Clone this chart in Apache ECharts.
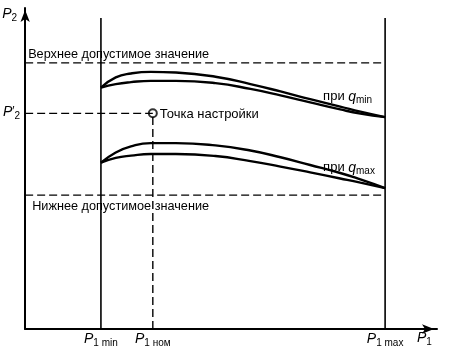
<!DOCTYPE html>
<html><head><meta charset="utf-8">
<script src="https://cdn.jsdelivr.net/npm/echarts@6/dist/echarts.min.js"></script>
<style>html,body{margin:0;padding:0;background:#fff}#c{width:449px;height:361px}</style>
</head><body><div id="c"></div>
<script>
const FONT = '"Liberation Sans", Arial, sans-serif';
const INK = '#000';
// key abscissas: P1 min, P1 nom, P1 max
const xTicks = [18.4, 31.0, 87.4];
const xTickSubs = ['1 min', '1 ном', '1 max'];
// key ordinate: P2'
const yTicks = [67.2];
const upperLimit = 82.9;
const lowerLimit = 41.7;
const boundTop = 96.9;
const setPoint = [31.0, 67.2];
// curves
const xCurve    = [18.4, 22.0, 25.7, 30.5, 36.6, 46.2, 54.7, 62.0, 69.2, 76.5, 81.4, 87.4];
const qMinOuter = [75.2, 78.4, 79.6, 80.1, 79.9, 78.6, 76.3, 74.0, 71.6, 69.3, 67.7, 66.0];
const qMinInner = [75.2, 76.3, 76.9, 77.3, 77.3, 76.6, 74.8, 72.8, 70.6, 68.4, 67.1, 66.0];
const qMaxOuter = [51.8, 55.0, 56.9, 57.9, 57.9, 57.2, 55.6, 53.5, 51.1, 48.6, 46.6, 43.9];
const qMaxInner = [51.8, 53.3, 54.0, 54.5, 54.5, 53.9, 52.3, 50.6, 48.8, 46.9, 45.6, 43.9];

const zip = (xs, ys) => xs.map((x, i) => [x, ys[i]]);
const chart = echarts.init(document.getElementById('c'), null, {renderer: 'canvas'});

const rich = {
  p: {fontFamily: FONT, fontStyle: 'italic', fontSize: 14, lineHeight: 16, verticalAlign: 'top', color: INK},
  pr: {fontFamily: FONT, fontSize: 12, lineHeight: 12, verticalAlign: 'top', color: INK},
  s: {fontFamily: FONT, fontSize: 10, lineHeight: 10, verticalAlign: 'top', color: INK, padding: [6, 0, 0, 0]},
  n: {fontFamily: FONT, fontSize: 13, lineHeight: 16, verticalAlign: 'top', color: INK, padding: [1, 0, 0, 0]},
  q: {fontFamily: FONT, fontStyle: 'italic', fontSize: 14, lineHeight: 16, verticalAlign: 'top', color: INK, padding: [1, 0, 0, 0]}
};

function seg(data, dashed, width) {
  return {type: 'line', data, symbol: 'none', silent: true, animation: false,
    lineStyle: {color: INK, width: width || 1.3, type: dashed ? [8, 4] : 'solid'}};
}
function curve(ys) {
  return {type: 'line', data: zip(xCurve, ys), symbol: 'none', smooth: 0.5,
    silent: true, animation: false, lineStyle: {color: INK, width: 2.4}};
}

chart.setOption({
  animation: false,
  grid: {left: 24, right: 12, top: 8, bottom: 32},
  xAxis: {type: 'value', min: 0, max: 100,
    axisLine: {show: true, symbol: ['none', 'arrow'], symbolSize: [7, 12], symbolOffset: [0, -3], lineStyle: {color: INK, width: 2}},
    axisTick: {show: false}, splitLine: {show: false},
    axisLabel: {customValues: xTicks, margin: 3, rich,
      formatter: v => { const i = xTicks.findIndex(t => Math.abs(t - v) < 1e-6); return i < 0 ? '' : '{p|P}{s|' + xTickSubs[i] + '}'; }}},
  yAxis: {type: 'value', min: 0, max: 100,
    axisLine: {show: true, symbol: ['none', 'arrow'], symbolSize: [7, 12], symbolOffset: [0, -2], lineStyle: {color: INK, width: 2}},
    axisTick: {show: false}, splitLine: {show: false},
    axisLabel: {customValues: yTicks, margin: 5, rich,
      formatter: v => '{p|P}{pr|′}{s|2}'}},
  series: [
    seg([[xTicks[0], 0], [xTicks[0], boundTop]], false, 1.6),
    seg([[xTicks[2], 0], [xTicks[2], boundTop]], false, 1.6),
    seg([[xTicks[1], 0], [xTicks[1], setPoint[1]]], true, 1.4),
    seg([[0, upperLimit], [xTicks[2], upperLimit]], true, 1.3),
    seg([[0, lowerLimit], [xTicks[2], lowerLimit]], true, 1.3),
    seg([[0, setPoint[1]], [setPoint[0], setPoint[1]]], true, 1.3),
    curve(qMinOuter), curve(qMinInner), curve(qMaxOuter), curve(qMaxInner),
    {type: 'scatter', data: [setPoint], symbol: 'circle', symbolSize: 8, silent: true, animation: false,
      itemStyle: {color: '#fff', borderColor: INK, borderWidth: 2}}
  ]
});

const px = (x, y) => chart.convertToPixel({gridIndex: 0}, [x, y]);
const txt = (x, y, text, extra) => Object.assign({type: 'text', x, y, silent: true,
  style: Object.assign({text, fontFamily: FONT, fontSize: 12.7, fill: INK, rich}, extra || {})});
const pUp = px(0, upperLimit), pLo = px(0, lowerLimit), pSet = px(setPoint[0], setPoint[1]);
const endA = px(xTicks[2], qMinOuter[11]), endB = px(xTicks[2], qMaxOuter[11]);
const pOrg = px(0, 0), pTop = px(0, 100), pRight = px(100, 0);
chart.setOption({graphic: [
  txt(pUp[0] + 3, pUp[1] - 2, 'Верхнее допустимое значение', {textVerticalAlign: 'bottom'}),
  txt(pLo[0] + 7, pLo[1] + 5, 'Нижнее допустимое значение', {textVerticalAlign: 'top'}),
  txt(pSet[0] + 7, pSet[1] + 1, 'Точка настройки', {textVerticalAlign: 'middle', fontSize: 13}),
  txt(endA[0] - 62, endA[1] - 28, '{n|при }{q|q}{s|min}'),
  txt(endB[0] - 62, endB[1] - 28, '{n|при }{q|q}{s|max}'),
  txt(pTop[0] - 23, pTop[1] - 1, '{p|P}{s|2}'),
  txt(pRight[0] - 20, pOrg[1] + 2, '{p|P}{s|1}')
]});
</script></body></html>
